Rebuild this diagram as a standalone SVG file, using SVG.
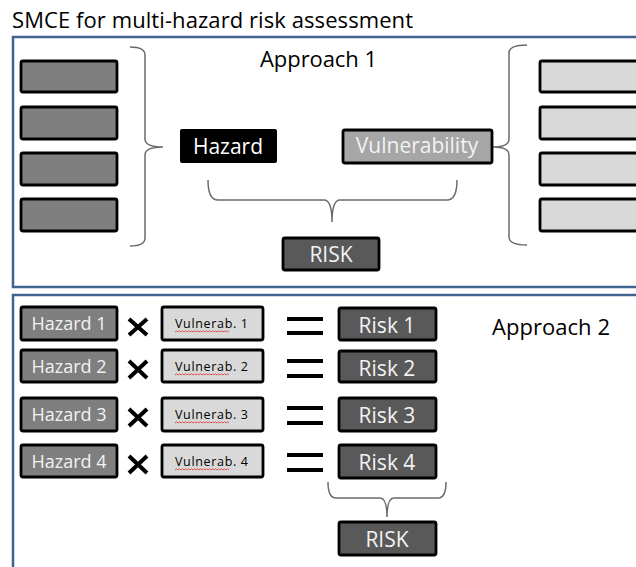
<svg xmlns="http://www.w3.org/2000/svg" width="636" height="567" viewBox="0 0 636 567">
<style>
text{font-family:"Open Sans","Liberation Sans",sans-serif}
.frame{fill:none;stroke:#41648f;stroke-width:2.5}
.bx{stroke:#000;stroke-width:2.8}
.dk{fill:#7f7f7f}
.lt{fill:#d9d9d9}
.rk{fill:#595959}
.br{fill:none;stroke:#6b6b6b;stroke-width:1.5}
.op{stroke:#000;stroke-width:4;fill:none}
.wt{fill:#f2f2f2}
.t22{font-size:22px}
.t21{font-size:21px}
.t18{font-size:18px}
.t13{font-size:12.5px}
.wv{fill:none;stroke:#e03030;stroke-width:0.8}
</style>
<defs>
<path id="wave" d="M0,0 l1.5,-1.2 l1.5,1.2 l1.5,-1.2 l1.5,1.2 l1.5,-1.2 l1.5,1.2 l1.5,-1.2 l1.5,1.2 l1.5,-1.2 l1.5,1.2 l1.5,-1.2 l1.5,1.2 l1.5,-1.2 l1.5,1.2 l1.5,-1.2 l1.5,1.2 l1.5,-1.2 l1.5,1.2 l1.5,-1.2 l1.5,1.2 l1.5,-1.2 l1.5,1.2 l1.5,-1.2 l1.5,1.2 l1.5,-1.2 l1.5,1.2 l1.5,-1.2 l1.5,1.2 l1.5,-1.2 l1.5,1.2 l1.5,-1.2 l1.5,1.2 l1.5,-1.2 l1.5,1.2 l1.5,-1.2 l1.5,1.2" class="wv"/>
</defs>
<rect width="636" height="567" fill="#fff"/>
<text x="12" y="28" class="t22" fill="#000" textLength="401">SMCE for multi-hazard risk assessment</text>
<rect class="frame" x="13" y="37" width="640" height="250"/>
<rect class="frame" x="13" y="295" width="640" height="290"/>
<text x="260" y="67" class="t22" fill="#000" textLength="117">Approach 1</text>
<text x="492" y="335" class="t22" fill="#000" textLength="118">Approach 2</text>

<g id="connectors">
<path class="br" d="M130,47 Q145,47 145,55 L145,139 Q145,147 163,147 Q145,147 145,155 L145,238 Q145,246 130,246"/>
<path class="br" d="M527,45 Q509,45 509,53 L509,139 Q509,147 493,147 Q509,147 509,155 L509,237 Q509,245 527,245"/>
<path class="br" d="M208,180 Q208,200 218,200 L324,200 Q332,200 332,222 Q332,200 340,200 L447,200 Q457,200 457,180"/>
<path class="br" d="M328,482 Q328,498 336,498 L380,498 Q387,498 387,517 Q387,498 394,498 L438,498 Q446,498 446,482"/>
</g>

<g id="left-boxes">
<rect class="bx dk" x="21" y="61" width="96" height="31" rx="2"/>
<rect class="bx dk" x="21" y="107" width="96" height="32" rx="2"/>
<rect class="bx dk" x="21" y="153" width="96" height="32" rx="2"/>
<rect class="bx dk" x="21" y="199" width="96" height="32" rx="2"/>
</g>
<g id="right-boxes">
<rect class="bx lt" x="540" y="61" width="110" height="31" rx="2"/>
<rect class="bx lt" x="540" y="107" width="110" height="32" rx="2"/>
<rect class="bx lt" x="540" y="153" width="110" height="32" rx="2"/>
<rect class="bx lt" x="540" y="199" width="110" height="32" rx="2"/>
</g>
<g id="hazard">
<rect x="180" y="129" width="97" height="34" rx="2" fill="#000"/>
<text x="228" y="154" class="t21" fill="#fff" text-anchor="middle">Hazard</text>
</g>
<g id="vulnerability">
<rect class="bx" x="343" y="130" width="149" height="33" rx="2" fill="#a6a6a6"/>
<text x="417" y="153" class="t21 wt" text-anchor="middle">Vulnerability</text>
</g>
<g id="risk-a1">
<rect class="bx rk" x="283" y="238" width="96" height="32" rx="2"/>
<text x="331" y="262" class="t21 wt" text-anchor="middle">RISK</text>
</g>

<g id="row1">
<rect class="bx dk" x="21" y="307" width="96" height="33" rx="2"/>
<text x="69" y="330" class="t18 wt" text-anchor="middle">Hazard 1</text>
<path class="op" d="M129,319 L147,335 M147,319 L129,335"/>
<rect class="bx lt" x="162" y="307" width="101" height="33" rx="2"/>
<text x="175" y="328" class="t13" fill="#000" textLength="73">Vulnerab. 1</text>
<use href="#wave" x="175" y="332"/>
<path class="op" d="M287,319 L323,319 M287,333 L323,333"/>
<rect class="bx rk" x="339" y="308" width="97" height="32" rx="2"/>
<text x="387" y="333" class="t21 wt" text-anchor="middle">Risk 1</text>
</g>
<g id="row2">
<rect class="bx dk" x="21" y="350" width="96" height="32" rx="2"/>
<text x="69" y="373" class="t18 wt" text-anchor="middle">Hazard 2</text>
<path class="op" d="M129,361 L147,378 M147,361 L129,378"/>
<rect class="bx lt" x="162" y="350" width="101" height="32" rx="2"/>
<text x="175" y="371" class="t13" fill="#000" textLength="73">Vulnerab. 2</text>
<use href="#wave" x="175" y="375"/>
<path class="op" d="M287,361 L323,361 M287,376 L323,376"/>
<rect class="bx rk" x="339" y="351" width="97" height="31" rx="2"/>
<text x="387" y="376" class="t21 wt" text-anchor="middle">Risk 2</text>
</g>
<g id="row3">
<rect class="bx dk" x="21" y="398" width="96" height="33" rx="2"/>
<text x="69" y="421" class="t18 wt" text-anchor="middle">Hazard 3</text>
<path class="op" d="M129,409 L147,426 M147,409 L129,426"/>
<rect class="bx lt" x="162" y="398" width="101" height="33" rx="2"/>
<text x="175" y="419" class="t13" fill="#000" textLength="73">Vulnerab. 3</text>
<use href="#wave" x="175" y="423"/>
<path class="op" d="M287,408 L323,408 M287,423 L323,423"/>
<rect class="bx rk" x="339" y="398" width="97" height="33" rx="2"/>
<text x="387" y="423" class="t21 wt" text-anchor="middle">Risk 3</text>
</g>
<g id="row4">
<rect class="bx dk" x="21" y="445" width="96" height="32" rx="2"/>
<text x="69" y="468" class="t18 wt" text-anchor="middle">Hazard 4</text>
<path class="op" d="M129,456 L147,473 M147,456 L129,473"/>
<rect class="bx lt" x="162" y="445" width="101" height="32" rx="2"/>
<text x="175" y="466" class="t13" fill="#000" textLength="73">Vulnerab. 4</text>
<use href="#wave" x="175" y="470"/>
<path class="op" d="M287,455 L323,455 M287,470 L323,470"/>
<rect class="bx rk" x="339" y="445" width="97" height="33" rx="2"/>
<text x="387" y="470" class="t21 wt" text-anchor="middle">Risk 4</text>
</g>
<g id="risk-a2">
<rect class="bx rk" x="339" y="522" width="97" height="33" rx="2"/>
<text x="387" y="547" class="t21 wt" text-anchor="middle">RISK</text>
</g>
</svg>
